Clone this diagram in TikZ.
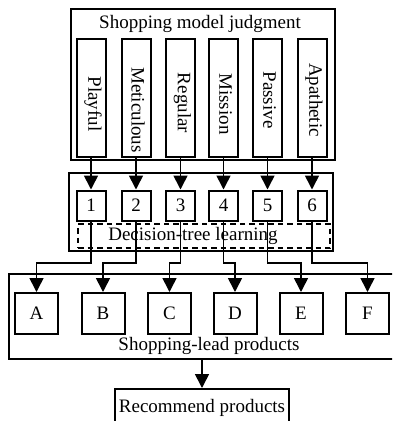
\documentclass[tikz,border=0pt]{standalone}
\usepackage{fontspec}
\setmainfont{Liberation Serif}
\usetikzlibrary{arrows.meta}
\begin{document}
\begin{tikzpicture}[x=1pt,y=-1pt,
  box/.style={draw, line width=2pt, inner sep=0pt},
  dbox/.style={draw, line width=2pt, inner sep=0pt, dash pattern=on 5.5pt off 4pt},
  arr/.style={line width=1.6pt, -{Triangle[length=14pt,width=14pt]}},
  lbl/.style={font=\fontsize{19}{22}\selectfont, inner sep=0pt},
  vlbl/.style={font=\fontsize{19}{22}\selectfont, inner sep=0pt, rotate=-90}]
\useasboundingbox (0,0) rectangle (392,421);
\clip (0,0) rectangle (392,421);
% top group
\node[box, minimum width=264pt, minimum height=151pt] (top) at (203,84.5) {};
\node[lbl] (toplbl) at (200,24) {Shopping model judgment};
\foreach \i/\x/\t/\ty in {1/91/Playful/104, 2/136/Meticulous/110, 3/180.5/Regular/103, 4/223.5/Mission/104, 5/267.5/Passive/100, 6/312/Apathetic/100}{
  \node[box, minimum width=29pt, minimum height=118pt] (v\i) at (\x,98) {};
  \node[vlbl] (vt\i) at (\x+2,\ty) {\t};
}
% middle group
\node[box, minimum width=264pt, minimum height=78pt] (mid) at (201,212) {};
\node[dbox, minimum width=252pt, minimum height=24pt] (dt) at (204,236) {};
\node[lbl] (dtl) at (193,236) {Decision-tree learning};
\foreach \i in {1,...,6}{
  \node[box, minimum width=29pt, minimum height=30pt, font=\fontsize{19}{22}\selectfont] (n\i) at (v\i.south |- 0,205.5) {\i};
  \draw[arr] (v\i.south) -- (n\i.north);
}
% bottom group
\node[box, minimum width=391pt, minimum height=85pt] (bot) at (204.5,316.5) {};
\node[lbl] (botl) at (209,346) {Shopping-lead products};
\foreach \n/\x in {A/36.5, B/103, C/169.5, D/235, E/301, F/367.5}{
  \node[box, minimum width=43pt, minimum height=41pt, font=\fontsize{19}{22}\selectfont] (\n) at (\x,313.5) {\n};
}
\coordinate (h) at (0,263);
\foreach \i/\n in {1/A, 2/B, 3/C, 4/D, 5/E, 6/F}{
  \draw[arr] (n\i.south) -- (n\i.south |- h) -| (\n.north);
}
% recommend
\node[box, minimum width=174pt, minimum height=51pt] (rec) at (202,414.5) {};
\node[lbl] (recl) at (202,408) {Recommend products};
\draw[arr] (rec.north |- bot.south) -- (rec.north);
\end{tikzpicture}
\end{document}
